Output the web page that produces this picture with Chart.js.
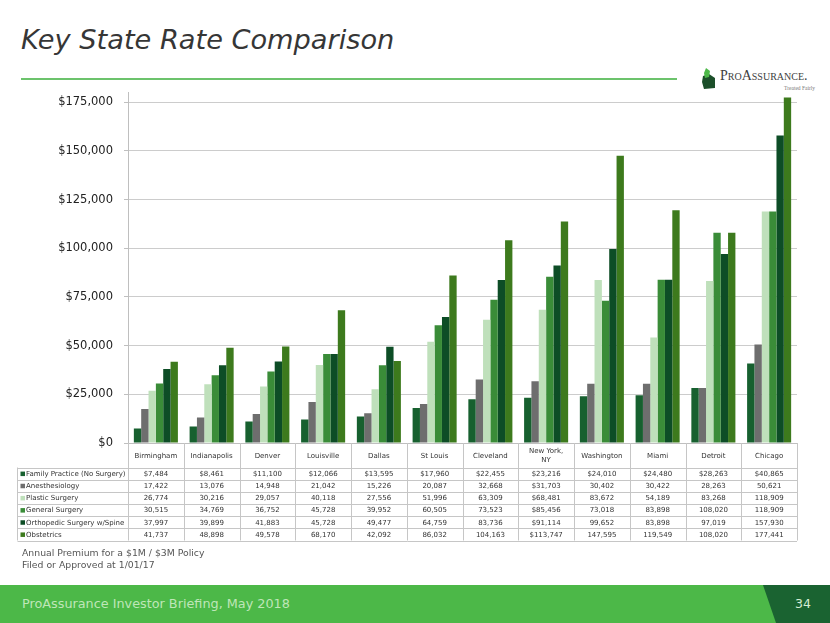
<!DOCTYPE html>
<html>
<head>
<meta charset="utf-8">
<script src="https://cdn.jsdelivr.net/npm/chart.js@4.4.1/dist/chart.umd.min.js"></script>
<style>
  html, body { margin: 0; padding: 0; background: #ffffff; }
  body { width: 830px; height: 623px; position: relative; overflow: hidden; font-family: "DejaVu Sans", sans-serif; }
  #title { position: absolute; left: 21px; top: 26px; font-size: 27.2px; line-height: 27px; font-style: italic; color: #363636; white-space: nowrap; }
  #rule { position: absolute; left: 21px; top: 78px; width: 656px; height: 2px; background: #6cc36c; }
  #logoText { position: absolute; left: 720px; top: 69px; font-family: "Liberation Serif", serif; font-variant: small-caps; font-size: 14px; line-height: 14px; color: #404040; white-space: nowrap; }
  #tagline { position: absolute; left: 784px; top: 85px; font-family: "Liberation Serif", serif; font-size: 5.5px; line-height: 6px; color: #7a7a7a; white-space: nowrap; }
  #logoIcon { position: absolute; left: 700px; top: 66px; }
  #wrap { position: absolute; left: 0; top: 0; width: 830px; height: 623px; }
  #note { position: absolute; left: 22px; top: 547px; font-size: 9.3px; line-height: 12px; color: #555555; white-space: nowrap; }
  #footer { position: absolute; left: 0; top: 585px; width: 830px; height: 38px; background: #4cb848; }
  #footSvg { position: absolute; left: 0; top: 585px; }
  #footText { position: absolute; left: 22px; top: 597px; font-size: 12.8px; line-height: 14px; color: #bfe6b8; white-space: nowrap; }
  #pageNum { position: absolute; left: 795px; top: 597px; font-size: 12.5px; line-height: 14px; color: #d6ecd4; }
</style>
</head>
<body>
<div id="title">Key State Rate Comparison</div>
<div id="rule"></div>
<svg id="logoIcon" width="18" height="24" viewBox="0 0 18 24">
  <polygon points="3,10 9,8 15,12 15,22 4,23 2,16" fill="#1c4f2a"/>
  <polygon points="6,2 10,5 9,11 5,12 4,7" fill="#4cb848"/>
</svg>
<div id="logoText">ProAssurance.</div>
<div id="tagline">Treated Fairly</div>
<div id="wrap"><canvas id="c"></canvas></div>
<div id="note">Annual Premium for a $1M / $3M Policy<br>Filed or Approved at 1/01/17</div>
<div id="footer"></div>
<svg id="footSvg" width="830" height="38"><polygon points="763,0 830,0 830,38 776,38" fill="#1a6331"/></svg>
<div id="footText">ProAssurance Investor Briefing, May 2018</div>
<div id="pageNum">34</div>
<script>
const categories = ['Birmingham', 'Indianapolis', 'Denver', 'Louisville', 'Dallas', 'St Louis', 'Cleveland', ['New York,', 'NY'], 'Washington', 'Miami', 'Detroit', 'Chicago'];
const seriesNames = ['Family Practice (No Surgery)', 'Anesthesiology', 'Plastic Surgery', 'General Surgery', 'Orthopedic Surgery w/Spine', 'Obstetrics'];
const familyPractice = [7484, 8461, 11100, 12066, 13595, 17960, 22455, 23216, 24010, 24480, 28263, 40865];
const anesthesiology = [17422, 13076, 14948, 21042, 15226, 20087, 32668, 31703, 30402, 30422, 28263, 50621];
const plasticSurgery = [26774, 30216, 29057, 40118, 27556, 51996, 63309, 68481, 83672, 54189, 83268, 118909];
const generalSurgery = [30515, 34769, 36752, 45728, 39952, 60505, 73523, 85456, 73018, 83898, 108020, 118909];
const orthopedicSpine = [37997, 39899, 41883, 45728, 49477, 64759, 83736, 91114, 99652, 83898, 97019, 157930];
const obstetrics = [41737, 48898, 49578, 68170, 42092, 86032, 104163, 113747, 147595, 119549, 108020, 177441];
const yTickValues = [0, 25000, 50000, 75000, 100000, 125000, 150000, 175000];
// table cells shown with a "$": the whole first row and the New York column
const dollarRows = [0];
const dollarColumns = [7];

const seriesValues = [familyPractice, anesthesiology, plasticSurgery, generalSurgery, orthopedicSpine, obstetrics];
const colors = ['#17602f', '#6e6e6e', '#bfe0bb', '#3a8c38', '#0d4d26', '#3d7a1d'];

function fmt(v) { return v.toLocaleString('en-US'); }

const tablePlugin = {
  id: 'dataTable',
  afterDraw(chart) {
    const ctx = chart.ctx;
    const x = chart.scales.x;
    const area = chart.chartArea;
    const n = categories.length;
    const colW = (area.right - area.left) / n;
    const headTop = area.bottom;
    const rowTop = 467.5;
    const rowH = 12.17;
    const tableLeft = 17.5;
    const tableBottom = rowTop + rowH * seriesNames.length;
    ctx.save();
    ctx.strokeStyle = '#c6c6c6';
    ctx.lineWidth = 1;
    ctx.beginPath();
    for (let r = 0; r <= seriesNames.length; r++) {
      const yy = Math.round(rowTop + r * rowH) + 0.5;
      ctx.moveTo(tableLeft, yy); ctx.lineTo(area.right, yy);
    }
    ctx.moveTo(tableLeft, rowTop); ctx.lineTo(tableLeft, tableBottom);
    for (let i = 0; i <= n; i++) {
      const xx = Math.round(area.left + i * colW) + 0.5;
      ctx.moveTo(xx, headTop); ctx.lineTo(xx, tableBottom);
    }
    ctx.stroke();

    ctx.font = '7px "DejaVu Sans"';
    ctx.fillStyle = '#333333';
    ctx.textAlign = 'center';
    ctx.textBaseline = 'middle';
    categories.forEach((c, i) => {
      const cx = x.getPixelForValue(i);
      const lines = Array.isArray(c) ? c : [c];
      const mid = (headTop + rowTop) / 2 + 0.5;
      lines.forEach((ln, k) => {
        ctx.fillText(ln, cx, mid + (k - (lines.length - 1) / 2) * 8.5);
      });
    });
    seriesValues.forEach((vals, r) => {
      const cy = rowTop + r * rowH + rowH / 2 + 0.5;
      ctx.textAlign = 'left';
      ctx.fillStyle = colors[r];
      ctx.fillRect(20.5, cy - 2.5, 4.5, 4.5);
      ctx.fillStyle = '#333333';
      ctx.fillText(seriesNames[r], 26, cy);
      ctx.textAlign = 'center';
      vals.forEach((v, i) => {
        const pre = (dollarRows.includes(r) || dollarColumns.includes(i)) ? '$' : '';
        ctx.fillText(pre + fmt(v), x.getPixelForValue(i), cy);
      });
    });
    ctx.restore();
  }
};

new Chart(document.getElementById('c'), {
  type: 'bar',
  data: {
    labels: categories,
    datasets: seriesNames.map((name, i) => ({
      label: name,
      data: seriesValues[i],
      backgroundColor: colors[i],
      borderWidth: 0,
      categoryPercentage: 0.79,
      barPercentage: 1.0
    }))
  },
  options: {
    responsive: true,
    maintainAspectRatio: false,
    animation: false,
    devicePixelRatio: 1,
    layout: { padding: { left: 0, top: 92.56, right: 33, bottom: 180 } },
    plugins: { legend: { display: false }, tooltip: { enabled: false }, title: { display: false } },
    scales: {
      x: {
        ticks: { display: false },
        grid: { display: false },
        border: { display: true, color: '#bfbfbf' },
        afterFit(s) { s.height = 0; }
      },
      y: {
        min: 0,
        max: 180000,
        afterFit(s) { s.width = 128; },
        afterBuildTicks(s) { s.ticks = yTickValues.map(v => ({ value: v })); },
        ticks: {
          padding: 11,
          color: '#222222',
          font: { family: 'DejaVu Sans', size: 11.5 },
          callback: v => '$' + fmt(v)
        },
        grid: { color: '#cccccc', lineWidth: 1, tickLength: 4, drawTicks: true, tickColor: '#bfbfbf' },
        border: { display: true, color: '#bfbfbf' }
      }
    }
  },
  plugins: [tablePlugin]
});
</script>
</body>
</html>
